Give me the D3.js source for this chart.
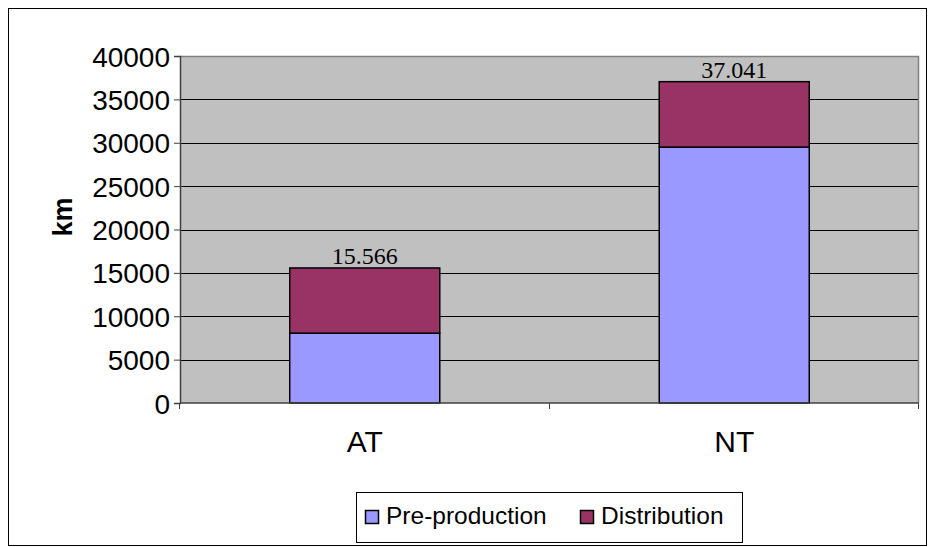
<!DOCTYPE html>
<html>
<head>
<meta charset="utf-8">
<script src="https://cdn.jsdelivr.net/npm/d3@7"></script>
<style>
  html, body { margin: 0; padding: 0; background: #fff; }
  svg { display: block; }
</style>
</head>
<body>
<svg id="chart" width="928" height="547"></svg>
<script>
// Kilometres per scenario, split into pre-production and distribution legs
const categories = ["AT", "NT"];
const seriesNames = ["Pre-production", "Distribution"];
const preProduction = [8050, 29500];
const distribution = [7516, 7541];
const totalLabels = ["15.566", "37.041"];
const yTicks = [0, 5000, 10000, 15000, 20000, 25000, 30000, 35000, 40000];
const seriesColors = ["#9999FF", "#993366"];

const svg = d3.select("#chart");
const W = 928, H = 547;
const plot = { left: 180, top: 56, right: 919, bottom: 403 };
const sans = "Liberation Sans, Arial, sans-serif";

// outer frame
svg.append("rect")
  .attr("x", 8.5).attr("y", 8.5)
  .attr("width", W - 10).attr("height", H - 10)
  .attr("fill", "#fff").attr("stroke", "#000").attr("stroke-width", 1);

const x = d3.scaleBand()
  .domain(categories)
  .range([plot.left, plot.right])
  .paddingInner(0).paddingOuter(0);

const y = d3.scaleLinear()
  .domain([0, 40000])
  .range([plot.bottom, plot.top]);

// plot background
svg.append("rect")
  .attr("x", plot.left).attr("y", plot.top)
  .attr("width", plot.right - plot.left).attr("height", plot.bottom - plot.top)
  .attr("fill", "#C0C0C0");

// gridlines
svg.append("g")
  .selectAll("line")
  .data(yTicks.filter(t => t > 0))
  .join("line")
  .attr("x1", plot.left).attr("x2", plot.right)
  .attr("y1", d => Math.round(y(d)) + 0.5).attr("y2", d => Math.round(y(d)) + 0.5)
  .attr("stroke", "#000").attr("stroke-width", 1);

// grey border on top and right of the plot area
svg.append("path")
  .attr("d", `M${plot.left},${plot.top + 0.5}H${plot.right - 0.5}V${plot.bottom}`)
  .attr("fill", "none").attr("stroke", "#808080").attr("stroke-width", 1.5);

// stacked bars
const stackData = categories.map((c, i) => ({ cat: c, "Pre-production": preProduction[i], "Distribution": distribution[i] }));
const stacked = d3.stack().keys(seriesNames)(stackData);
const barW = x.bandwidth() * 0.406;

svg.append("g")
  .selectAll("g")
  .data(stacked)
  .join("g")
  .attr("fill", (d, i) => seriesColors[i])
  .selectAll("rect")
  .data(d => d)
  .join("rect")
  .attr("x", d => x(d.data.cat) + (x.bandwidth() - barW) / 2)
  .attr("y", d => y(d[1]))
  .attr("width", barW)
  .attr("height", d => y(d[0]) - y(d[1]))
  .attr("stroke", "#000").attr("stroke-width", 1.5);

// y axis
const yAxis = svg.append("g")
  .attr("transform", `translate(${plot.left},0)`)
  .call(d3.axisLeft(y).tickValues(yTicks).tickSize(6).tickPadding(4).tickFormat(d3.format("d")));
yAxis.select(".domain").attr("stroke", "#404040").attr("stroke-width", 1.5);
yAxis.selectAll(".tick line").attr("stroke", "#404040");
yAxis.selectAll("text")
  .attr("font-family", sans)
  .attr("font-size", 28).attr("fill", "#000").attr("dy", "0.36em");

// x axis with ticks at the category boundaries
const xAxisG = svg.append("g").attr("transform", `translate(0,${plot.bottom})`);
xAxisG.append("line")
  .attr("x1", plot.left).attr("x2", plot.right)
  .attr("y1", 0).attr("y2", 0)
  .attr("stroke", "#404040").attr("stroke-width", 1.5);
const boundaries = categories.map(c => x(c)).concat([x(categories[categories.length - 1]) + x.bandwidth()]);
xAxisG.selectAll("line.b")
  .data(boundaries)
  .join("line")
  .attr("class", "b")
  .attr("x1", d => Math.round(d) - 0.5).attr("x2", d => Math.round(d) - 0.5)
  .attr("y1", 0).attr("y2", 6)
  .attr("stroke", "#404040").attr("stroke-width", 1);
xAxisG.selectAll("text")
  .data(categories)
  .join("text")
  .attr("x", d => x(d) + x.bandwidth() / 2)
  .attr("y", 49)
  .attr("text-anchor", "middle")
  .attr("font-family", sans)
  .attr("font-size", 30)
  .text(d => d);

// total labels above the bars
svg.append("g")
  .selectAll("text")
  .data(categories)
  .join("text")
  .attr("x", d => x(d) + x.bandwidth() / 2)
  .attr("y", (d, i) => y(preProduction[i] + distribution[i]) - 4)
  .attr("text-anchor", "middle")
  .attr("font-family", "Liberation Serif, Times New Roman, serif")
  .attr("font-size", 24)
  .text((d, i) => totalLabels[i]);

// y axis title
svg.append("text")
  .attr("transform", `translate(72,217) rotate(-90)`)
  .attr("text-anchor", "middle")
  .attr("font-family", sans)
  .attr("font-weight", "bold")
  .attr("font-size", 27)
  .text("km");

// legend
const legend = svg.append("g");
legend.append("rect")
  .attr("x", 356.5).attr("y", 492.5)
  .attr("width", 386).attr("height", 50)
  .attr("fill", "#fff").attr("stroke", "#000").attr("stroke-width", 1);
const legendX = [365, 580];
seriesNames.forEach((name, i) => {
  const lx = legendX[i];
  legend.append("rect")
    .attr("x", lx + 0.5).attr("y", 510.5)
    .attr("width", 13).attr("height", 13)
    .attr("fill", seriesColors[i]).attr("stroke", "#000").attr("stroke-width", 1.5);
  legend.append("text")
    .attr("x", lx + 21).attr("y", 524)
    .attr("font-family", sans)
    .attr("font-size", 24.5)
    .text(name);
});
</script>
</body>
</html>
